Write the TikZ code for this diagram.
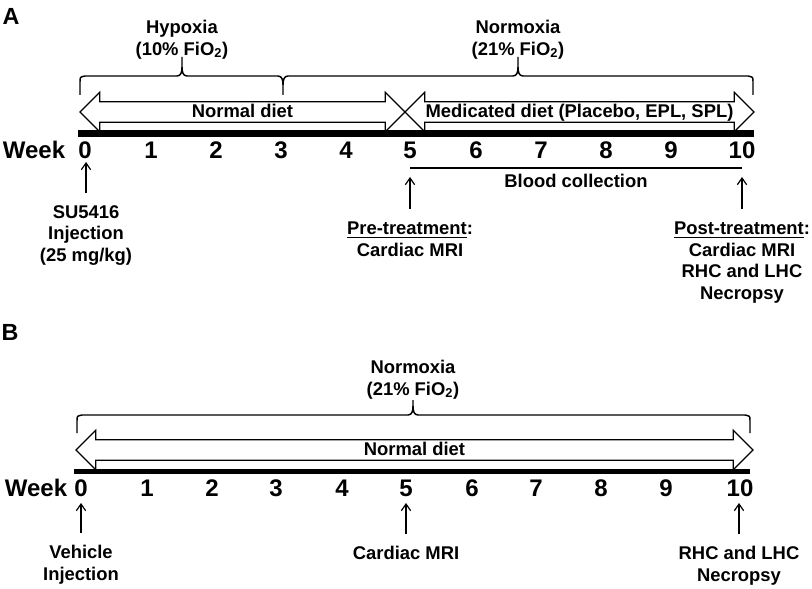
\documentclass[tikz,border=0pt]{standalone}
\usepackage{fontspec}
\setmainfont{Liberation Sans}
\usetikzlibrary{arrows.meta,shapes.arrows}

\begin{document}
\begin{tikzpicture}[
  x=0.75pt, y=-0.75pt, >={Straight Barb[length=5pt,width=7pt]},
  lab/.style    ={font=\fontsize{13.8}{16.1}\selectfont\bfseries, align=center, inner sep=0pt},
  weeknum/.style={font=\fontsize{18}{20}\selectfont\bfseries, inner sep=0pt},
  panel/.style  ={font=\fontsize{17.5}{20}\selectfont\bfseries, inner sep=0pt},
  diet/.style   ={double arrow, draw, line width=0.9pt, double arrow head extend=7.1pt,
                  inner xsep=0pt, inner ysep=1.9pt, text height=9.6pt, text depth=1pt,
                  font=\fontsize{13.8}{16}\selectfont\bfseries},
  brc/.style    ={line width=1.1pt, line join=round},
  uparr/.style  ={->, line width=0.9pt},
]
\useasboundingbox (0,0) rectangle (812,588);

% ── Panel A ──────────────────────────────────────────────────────────
\node[panel] (pA) at (11,16) {A};

% oxygen periods
\node[lab, anchor=north] (hyp)  at (182,20) {Hypoxia\\(10\% FiO\textsubscript{2})};
\node[lab, anchor=north] (norA) at (518,20) {Normoxia\\(21\% FiO\textsubscript{2})};
\draw[brc] (80,95) -- (80,82) .. controls (80,77) .. (85,76) -- (177,76)
  .. controls (181,76) and (182,72) .. (182,67) -- (182,57)
  (182,67) .. controls (182,72) and (183,76) .. (187,76) -- (278,76)
  .. controls (282,76) and (283,80) .. (283,85) -- (283,95)
  (283,85) .. controls (283,80) and (284,76) .. (288,76) -- (513,76)
  .. controls (517,76) and (518,72) .. (518,67) -- (518,57)
  (518,67) .. controls (518,72) and (519,76) .. (523,76) -- (748,76)
  .. controls (753,77) .. (753,82) -- (753,95);

% diets
\node[diet, minimum height=243.75pt] (dietA) at (242.5,112) {Normal diet};
\node[diet, minimum height=261.75pt] (medA)  at (579.5,112) {Medicated diet (Placebo, EPL, SPL)};

% time axis
\fill (78,130) rectangle (754,137);
\node[weeknum] (weekA) at (34,150) {Week};
\foreach \w/\x in {0/85,1/151,2/216,3/281,4/346,5/410,6/476,7/541,8/606,9/671,10/742}
  \node[weeknum] (a\w) at (\x,150) {\w};

% blood collection
\draw[line width=0.8pt] (410,168) -- (742,168);
\node[lab] (blood) at (576,181) {Blood collection};

% events
\node[lab, anchor=north] (su)   at (86,205)  {SU5416\\Injection\\(25 mg/kg)};
\node[lab, anchor=north] (pre)  at (410,222) {\underline{Pre-treatment}:\\Cardiac MRI};
\node[lab, anchor=north] (post) at (742,222) {\underline{Post-treatment}:\\Cardiac MRI\\RHC and LHC\\Necropsy};
\coordinate (t0A)  at (86,162);
\coordinate (t5A)  at (410,177);
\coordinate (t10A) at (742,177);
\draw[uparr, shorten <=9pt]    (su.north)   -- (t0A);
\draw[uparr, shorten <=9.75pt] (pre.north)  -- (t5A);
\draw[uparr, shorten <=9.75pt] (post.north) -- (t10A);

% ── Panel B ──────────────────────────────────────────────────────────
\node[panel] (pB) at (10,332) {B};

\node[lab, anchor=north] (norB) at (413,360) {Normoxia\\(21\% FiO\textsubscript{2})};
\draw[brc] (77,433) -- (77,421) .. controls (77,416) .. (82,415) -- (408,415)
  .. controls (412,415) and (413,411) .. (413,406) -- (413,400)
  (413,406) .. controls (413,411) and (414,415) .. (418,415) -- (745,415)
  .. controls (750,416) .. (750,421) -- (750,433);

\node[diet, minimum height=507.75pt] (dietB) at (414.5,450) {Normal diet};

\fill (74,469) rectangle (750,474);
\node[weeknum] (weekB) at (36,488) {Week};
\foreach \w/\x in {0/81,1/147,2/212,3/276,4/342,5/406,6/472,7/536,8/601,9/666,10/740}
  \node[weeknum] (b\w) at (\x,488) {\w};

\node[lab, anchor=north] (veh)  at (81,545)  {Vehicle\\Injection};
\node[lab, anchor=north] (mriB) at (406,546) {Cardiac MRI};
\node[lab, anchor=north] (rhcB) at (739,546) {RHC and LHC\\Necropsy};
\coordinate (t0B)  at (81,503);
\coordinate (t5B)  at (406,503);
\coordinate (t10B) at (739,503);
\draw[uparr, shorten <=9pt] (veh.north)  -- (t0B);
\draw[uparr, shorten <=9pt] (mriB.north) -- (t5B);
\draw[uparr, shorten <=9pt] (rhcB.north) -- (t10B);

\end{tikzpicture}
\end{document}
